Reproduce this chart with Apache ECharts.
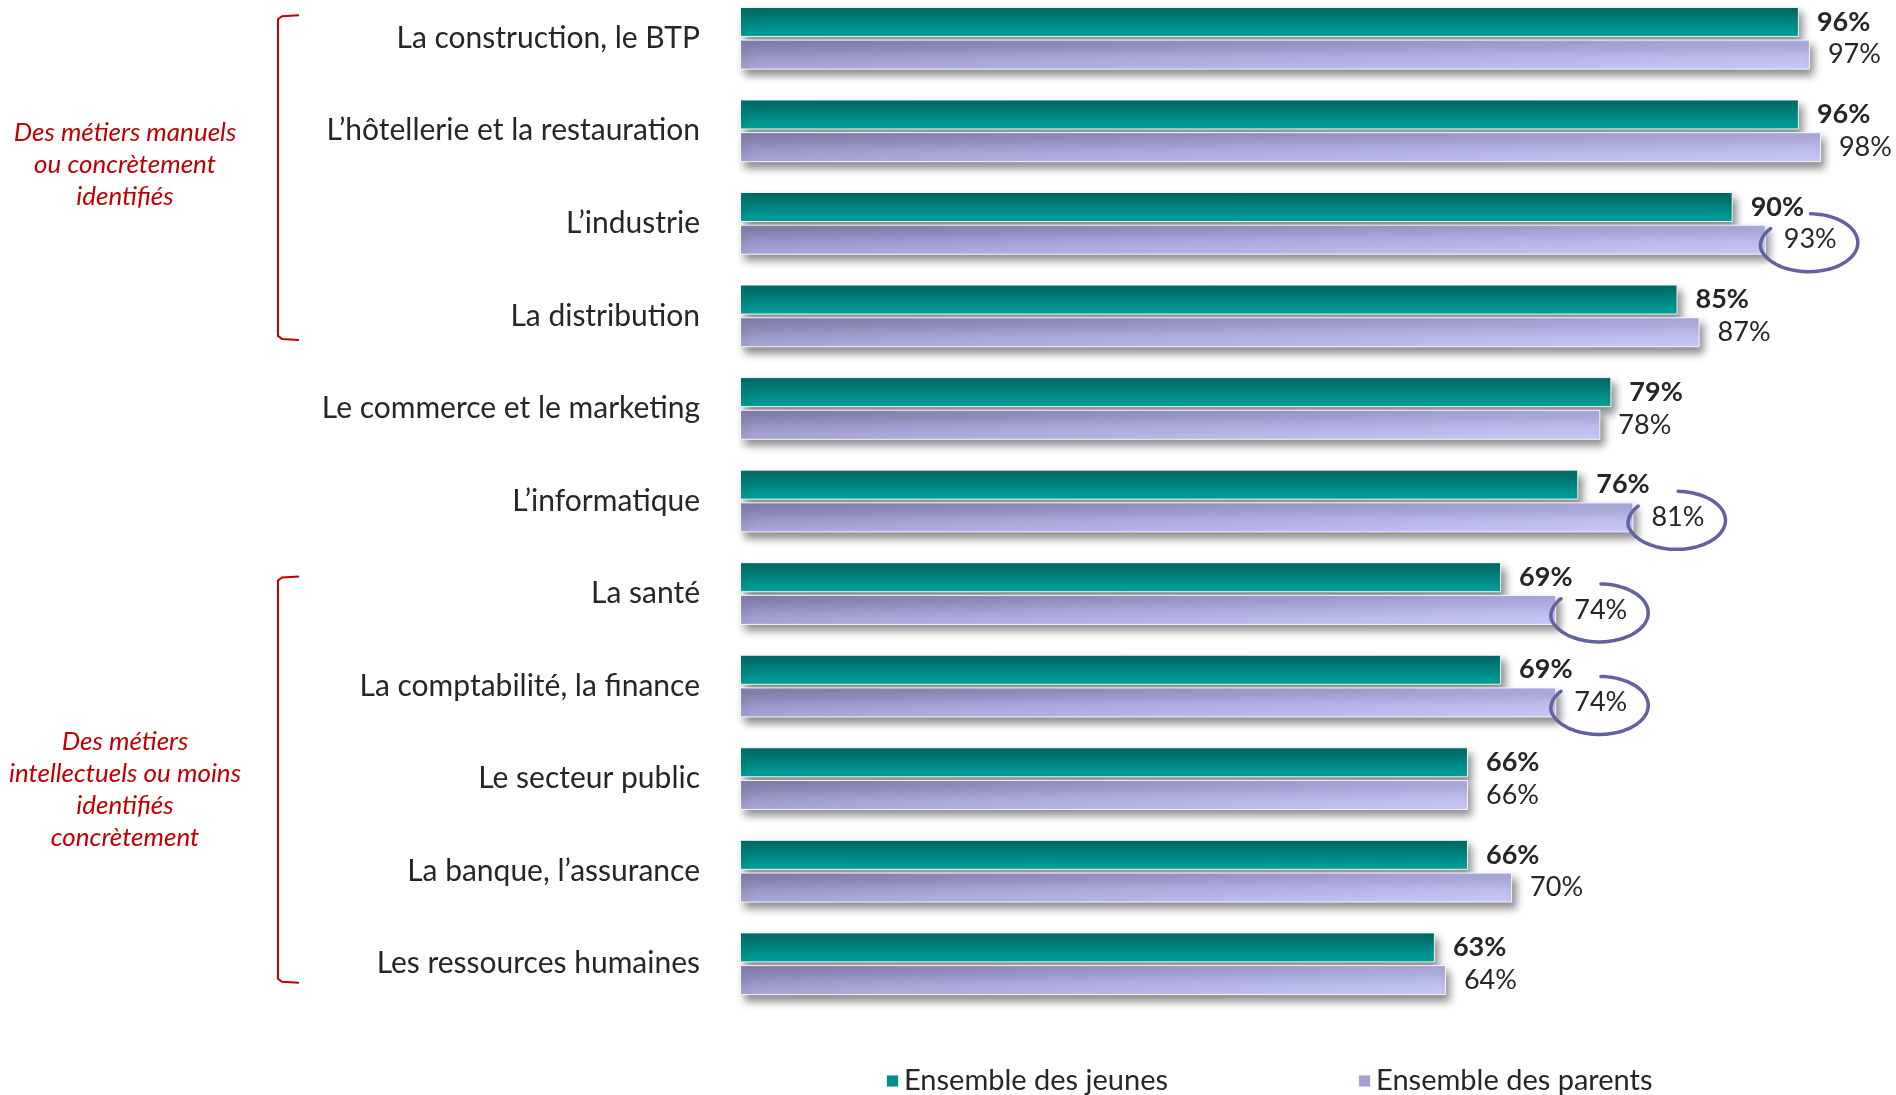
<!DOCTYPE html>
<html>
<head>
<meta charset="utf-8">
<script src="https://cdn.jsdelivr.net/npm/echarts@6/dist/echarts.min.js"></script>
<style>
html,body{margin:0;padding:0;background:#fff;}
#c{width:1896px;height:1095px;}
</style>
</head>
<body>
<div id="c"></div>
<script>
const categories = [
  'La construction, le BTP',
  'L’hôtellerie et la restauration',
  'L’industrie',
  'La distribution',
  'Le commerce et le marketing',
  'L’informatique',
  'La santé',
  'La comptabilité, la finance',
  'Le secteur public',
  'La banque, l’assurance',
  'Les ressources humaines'
];
const seriesNames = ['Ensemble des jeunes', 'Ensemble des parents'];
const jeunes  = [96, 96, 90, 85, 79, 76, 69, 69, 66, 66, 63];
const parents = [97, 98, 93, 87, 78, 81, 74, 74, 66, 70, 64];
const circled = ['L’industrie', 'L’informatique', 'La santé', 'La comptabilité, la finance'];
const groupNotes = [
  'Des métiers manuels\nou concrètement\nidentifiés',
  'Des métiers\nintellectuels ou moins\nidentifiés\nconcrètement'
];

const FONT = 'Lato, "Open Sans", sans-serif';
const GRID_LEFT = 740, GRID_RIGHT = 53;
const BAR_H = 30;
const chart = echarts.init(document.getElementById('c'));

const teal = new echarts.graphic.LinearGradient(0, 0, 0, 1, [
  {offset: 0, color: '#006864'},
  {offset: 1, color: '#00a29d'}
]);
// lavender bar: colour varies both along the bar and across its height
function lavFor(v) {
  const W = v / 100 * (1896 - GRID_LEFT - GRID_RIGHT);
  const dx = 2 * BAR_H * BAR_H / (W * W);
  return new echarts.graphic.LinearGradient(0, 0, dx, 2, [
    {offset: 0, color: '#7e7ba7'},
    {offset: 0.5, color: '#aaa8db'},
    {offset: 1, color: '#cacafa'}
  ]);
}

const shadow = {
  shadowColor: 'rgba(0,0,0,0.45)',
  shadowBlur: 8,
  shadowOffsetX: 4,
  shadowOffsetY: 6
};

const parentsData = parents.map(function (v) {
  return {value: v, itemStyle: {color: lavFor(v)}};
});

chart.setOption({
  animation: false,
  backgroundColor: '#fff',
  grid: {left: GRID_LEFT, right: GRID_RIGHT, top: -8, bottom: 85, containLabel: false, outerBoundsMode: 'none'},
  legend: {
    left: 880,
    top: 1061,
    itemWidth: 13,
    itemHeight: 13,
    itemGap: 189,
    textStyle: {fontFamily: FONT, fontSize: 29, color: '#262626', lineHeight: 30},
    data: [
      {name: seriesNames[0], icon: 'rect', itemStyle: {color: '#00908b'}},
      {name: seriesNames[1], icon: 'rect', itemStyle: {color: '#a3a1d3'}}
    ]
  },
  xAxis: {
    type: 'value', min: 0, max: 100, show: false
  },
  yAxis: {
    type: 'category',
    inverse: true,
    data: categories,
    axisLine: {show: false},
    axisTick: {show: false},
    splitLine: {show: false},
    axisLabel: {
      margin: 40,
      fontFamily: FONT,
      fontSize: 30,
      color: '#262626'
    }
  },
  series: [
    {
      name: seriesNames[0],
      type: 'bar',
      data: jeunes,
      barWidth: BAR_H,
      barGap: '9%',
      itemStyle: Object.assign({color: teal, borderColor: 'rgba(255,255,255,0.9)', borderWidth: 1}, shadow),
      label: {
        show: true, position: 'right', distance: 18,
        formatter: '{c}%',
        fontFamily: FONT, fontSize: 27, fontWeight: 'bold', color: '#262626'
      }
    },
    {
      name: seriesNames[1],
      type: 'bar',
      data: parentsData,
      barWidth: BAR_H,
      barGap: '9%',
      itemStyle: Object.assign({color: '#a8a6d9', borderColor: 'rgba(255,255,255,0.9)', borderWidth: 1}, shadow),
      label: {
        show: true, position: 'right', distance: 18,
        formatter: '{c}%',
        fontFamily: FONT, fontSize: 27, color: '#262626'
      }
    }
  ]
});

function catY(i) {
  return chart.convertToPixel({yAxisIndex: 0}, i);
}

const graphics = [];
function bracket(y1, y2) {
  return {
    type: 'polyline',
    shape: {points: [[299, y1], [282, y1 + 1], [278, y1 + 4], [278, y2 - 4], [282, y2 - 1], [299, y2]]},
    style: {stroke: '#c00000', lineWidth: 2, fill: null},
    z: 50
  };
}
graphics.push(bracket(catY(0) - 23, catY(3) + 24));
graphics.push(bracket(catY(6) - 17, catY(10) + 19));

graphics.push({
  type: 'text', z: 50,
  style: {
    text: groupNotes[0], x: 125, y: (catY(1) + catY(2)) / 2 - 12,
    align: 'center', verticalAlign: 'middle',
    font: 'italic 26px ' + FONT, fill: '#c00000', lineHeight: 32
  }
});
graphics.push({
  type: 'text', z: 50,
  style: {
    text: groupNotes[1], x: 125, y: catY(8) + 11,
    align: 'center', verticalAlign: 'middle',
    font: 'italic 26px ' + FONT, fill: '#c00000', lineHeight: 32
  }
});

// hand-drawn style open loops around highlighted parent values
const pData = chart.getModel().getSeriesByIndex(1).getData();
circled.forEach(function (name) {
  const idx = categories.indexOf(name);
  const lay = pData.getItemLayout(idx);
  const endX = lay.x + lay.width;
  const cy = lay.y + lay.height / 2 + 3;
  const cx = endX + 43, rx = 49, ry = 29;
  const pts = [];
  for (let a = -88; a <= 212; a += 4) {
    const t = a * Math.PI / 180;
    const k = a > 170 ? 1 - (a - 170) / 42 * 0.08 : 1;
    pts.push([cx + rx * k * Math.cos(t), cy + ry * k * Math.sin(t)]);
  }
  graphics.push({
    type: 'polyline',
    shape: {points: pts, smooth: 0.3},
    style: {fill: null, stroke: '#62629f', lineWidth: 3.5, lineCap: 'round'},
    z: 60
  });
});

chart.setOption({graphic: graphics});
</script>
</body>
</html>
